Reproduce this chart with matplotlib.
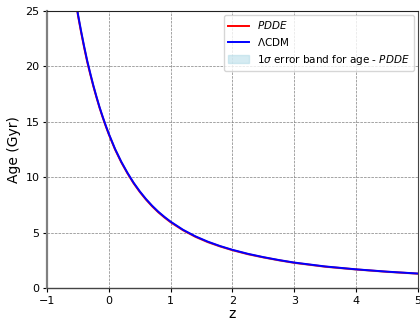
import matplotlib
matplotlib.use("Agg")
import matplotlib.pyplot as plt

# Redshift grid
z = [-0.55, -0.5, -0.45, -0.4, -0.35, -0.3, -0.25, -0.2, -0.15, -0.1, -0.05, 0.0,
     0.1, 0.2, 0.3, 0.4, 0.5, 0.6, 0.7, 0.8, 0.9, 1.0, 1.2, 1.4, 1.6, 1.8, 2.0,
     2.25, 2.5, 2.75, 3.0, 3.5, 4.0, 4.5, 5.0]

# Age in Gyr, LambdaCDM
age_lcdm = [26.6, 24.7, 23.2, 21.8, 20.5, 19.35, 18.25, 17.25, 16.3, 15.45, 14.65, 13.9,
            12.55, 11.4, 10.4, 9.5, 8.72, 8.03, 7.42, 6.88, 6.41, 5.98, 5.25, 4.66, 4.18, 3.78, 3.44,
            3.08, 2.78, 2.52, 2.29, 1.94, 1.68, 1.47, 1.30]

# Age in Gyr, PDDE
age_pdde = [26.5, 24.6, 23.1, 21.7, 20.4, 19.27, 18.18, 17.19, 16.25, 15.4, 14.6, 13.85,
            12.5, 11.35, 10.35, 9.45, 8.67, 7.98, 7.37, 6.83, 6.36, 5.93, 5.21, 4.62, 4.14, 3.75, 3.41,
            3.05, 2.76, 2.50, 2.27, 1.92, 1.67, 1.46, 1.29]

# 1-sigma error of PDDE age (Gyr)
age_err = [0.12, 0.11, 0.11, 0.10, 0.10, 0.09, 0.09, 0.08, 0.08, 0.08, 0.07, 0.07,
           0.06, 0.06, 0.05, 0.05, 0.05, 0.04, 0.04, 0.04, 0.04, 0.03, 0.03, 0.03, 0.03, 0.02, 0.02,
           0.02, 0.02, 0.02, 0.02, 0.01, 0.01, 0.01, 0.01]

xticks = [-1, 0, 1, 2, 3, 4, 5]
yticks = [0, 5, 10, 15, 20, 25]

fig = plt.figure(figsize=(4.2, 3.21), dpi=100)
ax = fig.add_axes([0.112, 0.103, 0.883, 0.863])

lo = [a - e for a, e in zip(age_pdde, age_err)]
hi = [a + e for a, e in zip(age_pdde, age_err)]
ax.fill_between(z, lo, hi, color="lightblue", alpha=0.5,
                label=r"1$\sigma$ error band for age - $PDDE$")
ax.plot(z, age_pdde, color="red", lw=1.4, label=r"$PDDE$")
ax.plot(z, age_lcdm, color="blue", lw=1.4, label=r"$\Lambda$CDM")

ax.set_xlim(-1, 5)
ax.set_ylim(0, 25)
ax.set_xticks(xticks)
ax.set_yticks(yticks)
ax.tick_params(labelsize=8, length=3, width=0.8, pad=2.5)
ax.set_xlabel("z", fontsize=10, labelpad=1)
ax.set_ylabel("Age (Gyr)", fontsize=10, labelpad=3)
ax.grid(True, linestyle="--", color="gray", linewidth=0.5)

ax.spines["left"].set_color("gray")
ax.spines["left"].set_linewidth(1.6)
ax.spines["bottom"].set_color("#444444")
ax.spines["bottom"].set_linewidth(1.0)
ax.spines["top"].set_color("#222222")
ax.spines["right"].set_color("#444444")

handles, labels = ax.get_legend_handles_labels()
order = [labels.index(r"$PDDE$"), labels.index(r"$\Lambda$CDM"),
         labels.index(r"1$\sigma$ error band for age - $PDDE$")]
ax.legend([handles[i] for i in order], [labels[i] for i in order],
          loc="upper right", fontsize=7.5, framealpha=0.8,
          borderaxespad=0.4, labelspacing=0.45)

fig.savefig("out.png", dpi=100)
